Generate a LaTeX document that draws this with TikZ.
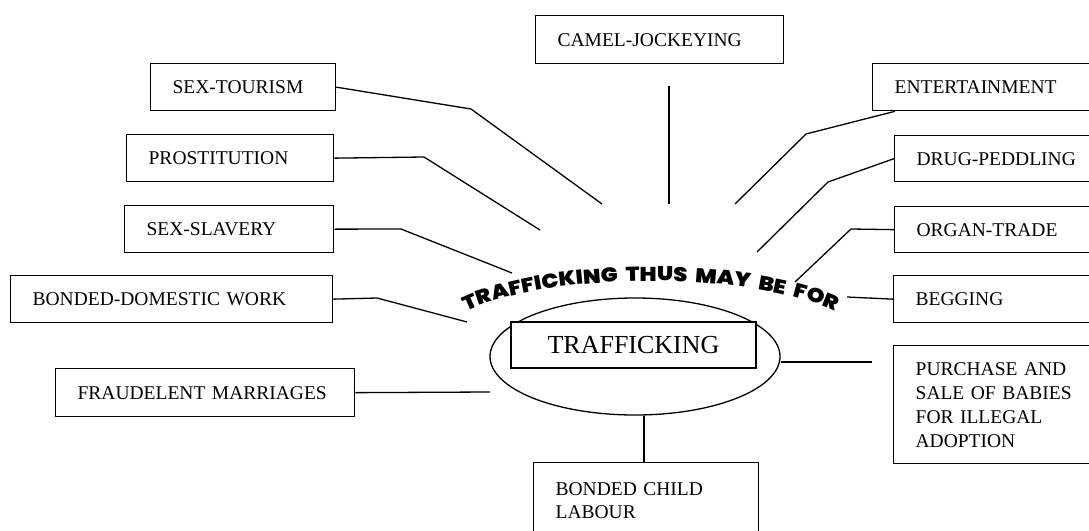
\documentclass[tikz,border=0pt]{standalone}
\usepackage{fontspec}
\setmainfont{Liberation Serif}
\newfontfamily\arcfam[FakeStretch=1.13, WordSpace=2]{Poppins Black}
\newcommand\arcstyle{\arcfam\fontsize{20}{22}\selectfont}
\usetikzlibrary{shapes.geometric, decorations.text, calc}

\begin{document}
\begin{tikzpicture}[x=1pt, y=-1pt,
  conn/.style={line width=1.3pt, line join=round},
  itembox/.style={draw, line width=1.3pt, anchor=north west, inner xsep=22pt,
    inner ysep=0pt, align=left, text width=#1, font=\fontsize{19.5}{24}\selectfont},
  oneline/.style={itembox=#1, text height=12.8pt, text depth=0pt},
]
\useasboundingbox (0,0) rectangle (1089,530);
\clip (0,0) rectangle (1089,530);

% central ellipse with the title box on top of it
\node[draw, ellipse, line width=1.3pt, minimum width=290pt, minimum height=117pt,
  inner sep=0pt] (ell) at (635,356.5) {};
\node[draw, fill=white, line width=1.3pt, minimum width=245pt, minimum height=46pt,
  inner sep=0pt, font=\fontsize{26}{30}\selectfont] (core) at (633.5,345) {TRAFFICKING};

% curved heading above the ellipse
\path[decorate, decoration={text along path,
    text={|\arcstyle|TRAFFICKING THUS MAY BE FOR}, text align=center}]
  plot[domain=16:164, samples=80, variable=\t]
    ({651-217*cos(\t)}, {345-64*sin(\t)});

% left column
\node[oneline=141pt, minimum height=47pt] (stour) at (150,63) {SEX-TOURISM};
\node[oneline=163pt, minimum height=47pt] (prost) at (126,134) {PROSTITUTION};
\node[oneline=165pt, minimum height=47pt] (slav) at (124,205) {SEX-SLAVERY};
\node[oneline=278pt, minimum height=47pt] (bdw) at (10,275) {BONDED-DOMESTIC WORK};
\node[oneline=255pt, minimum height=48pt] (fraud) at (55,368) {FRAUDELENT MARRIAGES};

% top
\node[oneline=204pt, minimum height=48pt] (cam) at (535,15) {CAMEL-JOCKEYING};

% right column
\node[oneline=194pt, minimum height=47pt] (ent) at (872,63) {ENTERTAINMENT};
\node[oneline=172pt, minimum height=46pt] (drug) at (894,135) {DRUG-PEDDLING};
\node[oneline=172pt, minimum height=46pt] (organ) at (894,206) {ORGAN-TRADE};
\node[oneline=173pt, minimum height=47pt] (beg) at (893,275) {BEGGING};
\node[itembox=173pt, minimum height=118pt] (buy) at (893,345)
  {PURCHASE AND\\SALE OF BABIES\\FOR ILLEGAL\\ADOPTION};

% bottom
\node[itembox=181pt, inner ysep=20pt, text height=12.8pt, text depth=80pt,
  font=\fontsize{19.5}{23}\selectfont] (child) at (533,462) {BONDED CHILD\\LABOUR};

% loose ends of the connectors
\coordinate (stourEnd) at (602,204);
\coordinate (prostEnd) at (540,230);
\coordinate (slavEnd) at (512,273);
\coordinate (bdwEnd) at (467,322);
\coordinate (fraudEnd) at (490,392);
\coordinate (camTop) at (669,86);
\coordinate (camEnd) at (669,204);
\coordinate (entEnd) at (735,204);
\coordinate (drugEnd) at (757,252);
\coordinate (organEnd) at (795,282);
\coordinate (begEnd) at (847,297);
\coordinate (buyEnd) at (872,362);

% connectors
\draw[conn] (stour.east) -- (471,109) -- (stourEnd);
\draw[conn] (prost.east) -- (424,157) -- (prostEnd);
\draw[conn] (slav.east) -- (401,229) -- (slavEnd);
\draw[conn] (bdw.east) -- (377,298) -- (bdwEnd);
\draw[conn] (fraud.east) -- (fraudEnd);
\draw[conn] (camTop) -- (camEnd);
\draw[conn] ($(ent.south west)+(23,0)$) -- (806,134) -- (entEnd);
\draw[conn] (drug.west) -- (828,182) -- (drugEnd);
\draw[conn] (organ.west) -- (851,229) -- (organEnd);
\draw[conn] (beg.west) -- (begEnd);
\draw[conn] (ell.east |- buyEnd) -- (buyEnd);
\draw[conn] ($(child.north west)+(111,0)$) coordinate (childTop) -- (childTop |- ell.south);
\end{tikzpicture}
\end{document}
